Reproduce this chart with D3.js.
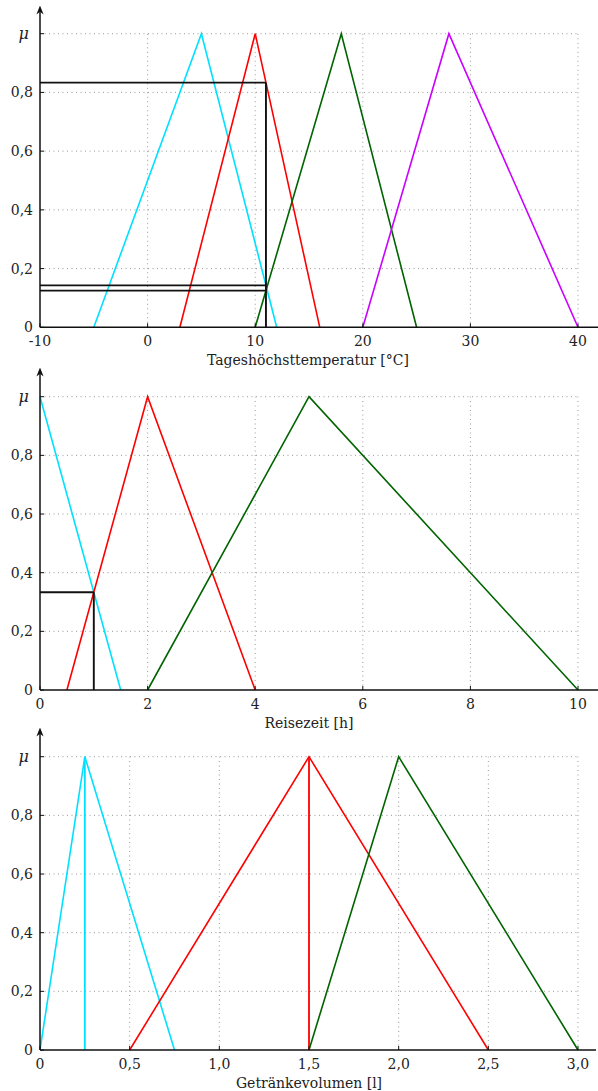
<!DOCTYPE html>
<html><head><meta charset="utf-8">
<script src="https://cdn.jsdelivr.net/npm/d3@7"></script>
<style>
body{margin:0;background:#fff}
svg{display:block}
text{font-family:"DejaVu Serif",serif;font-size:14px;fill:#222}
</style></head><body>
<svg id="c" width="598" height="1091"></svg>
<script>
// ---- Data ----
// Chart 1: Tageshöchsttemperatur
const tempDomain = [-10, 40];
const tempTicks = [-10, 0, 10, 20, 30, 40];
const tempSets = [
  {color:"#00e1ff", pts:[[-5,0],[5,1],[12,0]]},
  {color:"#ff0000", pts:[[3,0],[10,1],[16,0]]},
  {color:"#006400", pts:[[10,0],[18,1],[25,0]]},
  {color:"#cc00ff", pts:[[20,0],[28,1],[40,0]]}
];
const tempInput = 11;
const tempMembership = [0.8333, 0.1429, 0.125];

// Chart 2: Reisezeit
const timeDomain = [0, 10];
const timeTicks = [0, 2, 4, 6, 8, 10];
const timeSets = [
  {color:"#00e1ff", pts:[[0,1],[1.5,0]]},
  {color:"#ff0000", pts:[[0.5,0],[2,1],[4,0]]},
  {color:"#006400", pts:[[2,0],[5,1],[10,0]]}
];
const timeInput = 1;
const timeMembership = [0.3333];

// Chart 3: Getränkevolumen
const volDomain = [0, 3];
const volTicks = [0, 0.5, 1.0, 1.5, 2.0, 2.5, 3.0];
const volSets = [
  {color:"#00e1ff", pts:[[0,0],[0.25,1],[0.75,0]]},
  {color:"#ff0000", pts:[[0.5,0],[1.5,1],[2.5,0]]},
  {color:"#006400", pts:[[1.5,0],[2,1],[3,0]]}
];
const volSingletons = [{color:"#00e1ff", x:0.25}, {color:"#ff0000", x:1.5}];

const yTicks = [0, 0.2, 0.4, 0.6, 0.8, 1];
const fmtComma = d => String(d).replace(".", ",");

const svg = d3.select("#c");
svg.append("defs").append("marker")
  .attr("id","arr").attr("viewBox","0 0 10 10").attr("refX",5).attr("refY",5)
  .attr("markerWidth",6).attr("markerHeight",6).attr("orient","auto")
  .append("path").attr("d","M0,1 L10,5 L0,9 L3,5 Z").attr("fill","#111");

function chart(o){
  const g = svg.append("g");
  const x = d3.scaleLinear().domain(o.domain).range([40, 578]);
  const y = d3.scaleLinear().domain([0,1]).range([o.y0, o.y1]);
  // grid
  const grid = g.append("g").attr("stroke","#999").attr("stroke-width",1).attr("stroke-dasharray","1,3.5");
  o.xticks.slice(1).forEach(t=>{
    grid.append("line").attr("x1",x(t)).attr("x2",x(t)).attr("y1",y(0)).attr("y2",y(1));
  });
  yTicks.slice(1).forEach(t=>{
    grid.append("line").attr("x1",x(o.domain[0])).attr("x2",x(o.domain[1])).attr("y1",y(t)).attr("y2",y(t));
  });
  // curves
  const line = d3.line().x(d=>x(d[0])).y(d=>y(d[1]));
  o.sets.forEach(s=>{
    g.append("path").attr("d",line(s.pts)).attr("fill","none").attr("stroke",s.color).attr("stroke-width",1.6);
  });
  (o.singletons||[]).forEach(s=>{
    g.append("line").attr("x1",x(s.x)).attr("x2",x(s.x)).attr("y1",y(0)).attr("y2",y(1))
      .attr("stroke",s.color).attr("stroke-width",1.8);
  });
  // input marking
  if(o.input!==undefined){
    const mk = g.append("g").attr("stroke","#111").attr("stroke-width",1.9).attr("fill","none");
    mk.append("line").attr("x1",x(o.input)).attr("x2",x(o.input)).attr("y1",y(0)).attr("y2",y(d3.max(o.memb)));
    o.memb.forEach(m=>{
      mk.append("line").attr("x1",x(o.domain[0])).attr("x2",x(o.input)).attr("y1",y(m)).attr("y2",y(m));
    });
  }
  // axes
  g.append("line").attr("x1",x(o.domain[0])).attr("x2",o.xEnd).attr("y1",y(0)).attr("y2",y(0))
    .attr("stroke","#111").attr("stroke-width",1.5);
  g.append("line").attr("x1",x(o.domain[0])).attr("x2",x(o.domain[0])).attr("y1",y(0)).attr("y2",o.yTop)
    .attr("stroke","#111").attr("stroke-width",1.5).attr("marker-end","url(#arr)");
  o.xticks.forEach(t=>{
    g.append("line").attr("x1",x(t)).attr("x2",x(t)).attr("y1",y(0)).attr("y2",y(0)-4).attr("stroke","#111").attr("stroke-width",1);
    g.append("text").attr("x",x(t)).attr("y",y(0)+18.5).attr("text-anchor","middle").text(o.xfmt(t));
  });
  yTicks.forEach(t=>{
    g.append("line").attr("x1",x(o.domain[0])).attr("x2",x(o.domain[0])+4).attr("y1",y(t)).attr("y2",y(t)).attr("stroke","#111").attr("stroke-width",1);
    const tx = g.append("text").attr("x",33).attr("y",y(t)+5).attr("text-anchor","end");
    if(t===1) tx.attr("x",29).attr("font-style","italic").style("font-size","16px").text("μ");
    else tx.text(fmtComma(t));
  });
  g.append("text").attr("x",o.labelX).attr("y",y(0)+37.5).attr("text-anchor","middle").text(o.label);
}

chart({domain:tempDomain, xticks:tempTicks, sets:tempSets, y0:327.3, y1:33.7, yTop:10, xEnd:598,
  input:tempInput, memb:tempMembership, xfmt:d=>String(d), label:"Tageshöchsttemperatur [°C]", labelX:308});
chart({domain:timeDomain, xticks:timeTicks, sets:timeSets, y0:690, y1:396.7, yTop:372, xEnd:598,
  input:timeInput, memb:timeMembership, xfmt:d=>String(d), label:"Reisezeit [h]", labelX:309});
chart({domain:volDomain, xticks:volTicks, sets:volSets, y0:1050, y1:756.7, yTop:732, xEnd:596,
  singletons:volSingletons, xfmt:d=>d3.format(".1f")(d).replace(".",",").replace(/^0,0$/,"0"), label:"Getränkevolumen [l]", labelX:309});
</script>
</body></html>
